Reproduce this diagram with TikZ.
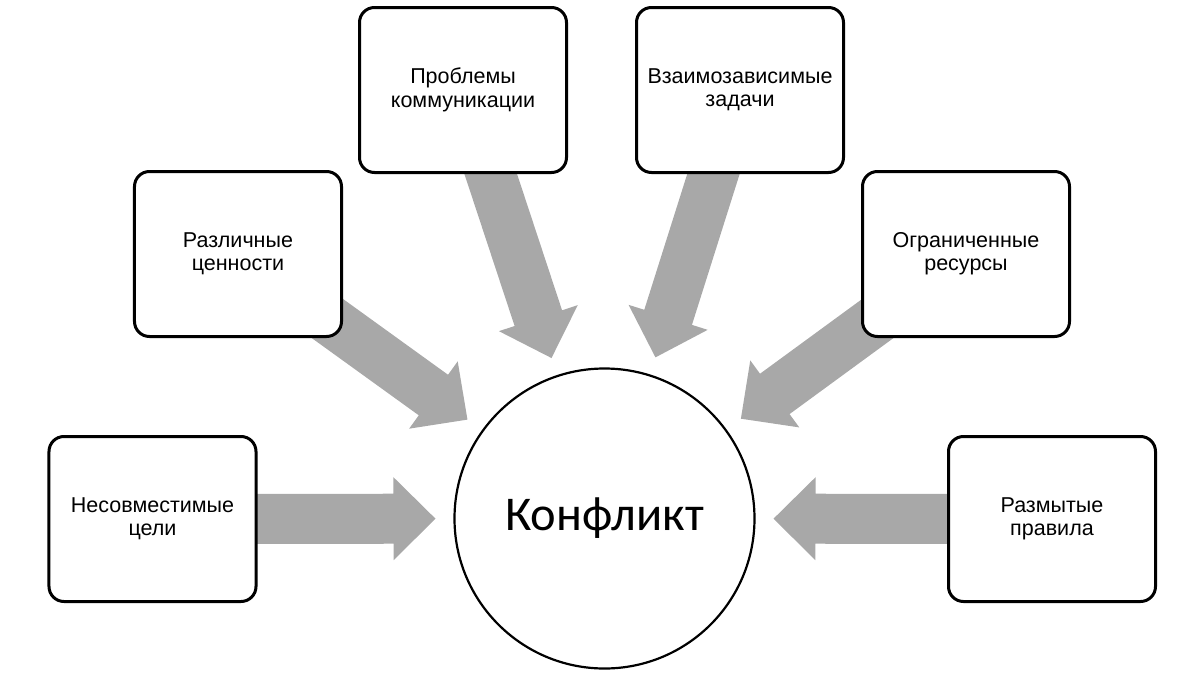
\documentclass[tikz,border=0pt]{standalone}
\usepackage{fontspec}
\setmainfont{Liberation Sans}
\newfontfamily\conflictfont{Carlito}
\usetikzlibrary{calc, backgrounds}
\definecolor{spokegray}{HTML}{A8A8A8}

\begin{document}
\begin{tikzpicture}[
  x=0.25mm, y=-0.25mm,
  causebox/.style={
    draw=black, line width=0.75mm, fill=white, rounded corners=3.75mm,
    minimum width=51.75mm, minimum height=41.25mm, align=center,
    font=\fontsize{15.3}{16.6}\selectfont, inner sep=0pt
  },
  spoke/.style={
    fill=spokegray,
    to path={
      ($(\tikztostart)!6.25mm!90:(\tikztotarget)$)
      -- ($(\tikztotarget)!52.75mm!(\tikztostart)!6.25mm!-90:(\tikztostart)$)
      -- ($(\tikztotarget)!52.75mm!(\tikztostart)!10.375mm!-90:(\tikztostart)$)
      -- ($(\tikztotarget)!42.25mm!(\tikztostart)$)
      -- ($(\tikztotarget)!52.75mm!(\tikztostart)!10.375mm!90:(\tikztostart)$)
      -- ($(\tikztotarget)!52.75mm!(\tikztostart)!6.25mm!90:(\tikztostart)$)
      -- ($(\tikztostart)!6.25mm!-90:(\tikztotarget)$)
      -- cycle
    }
  },
]

% Canvas
\useasboundingbox (0,0) rectangle (1200,674);

% Center circle
\node[circle, draw=black, line width=0.55mm, fill=white, minimum size=75mm,
      inner sep=0pt, font=\conflictfont\fontsize{34.5}{38}\selectfont]
  (conflict) at (604.5,518.5) {Конфликт};

% =============================================
% Spoke 1: Left — Incompatible goals
% =============================================
\node[causebox] (goals) at (152.5,519) {Несовместимые\\цели};

\scoped[on background layer] \fill[spoke] (goals.center) to (conflict.center);

% =============================================
% Spoke 2: Upper left — Different values
% =============================================
\node[causebox] (values) at (238,254) {Различные\\ценности};

\scoped[on background layer] \fill[spoke] (values.center) to (conflict.center);

% =============================================
% Spoke 3: Top left — Communication problems
% =============================================
\node[causebox] (comm) at (463,90) {Проблемы\\коммуникации};

\scoped[on background layer] \fill[spoke] (comm.center) to (conflict.center);

% =============================================
% Spoke 4: Top right — Interdependent tasks
% =============================================
\node[causebox] (tasks) at (740,90) {Взаимозависимые\\задачи};

\scoped[on background layer] \fill[spoke] (tasks.center) to (conflict.center);

% =============================================
% Spoke 5: Upper right — Limited resources
% =============================================
\node[causebox] (resources) at (966,254) {Ограниченные\\ресурсы};

\scoped[on background layer] \fill[spoke] (resources.center) to (conflict.center);

% =============================================
% Spoke 6: Right — Vague rules
% =============================================
\node[causebox] (rules) at (1052,519) {Размытые\\правила};

\scoped[on background layer] \fill[spoke] (rules.center) to (conflict.center);

\end{tikzpicture}
\end{document}
